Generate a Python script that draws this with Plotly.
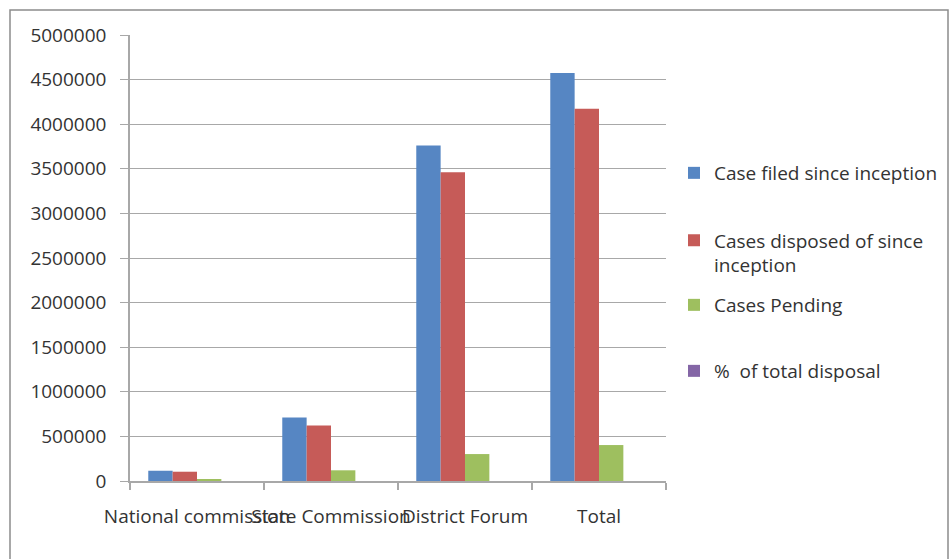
import plotly.graph_objects as go

categories = ["National commission", "State Commission", "District Forum", "Total"]
case_filed = [115000, 713000, 3760000, 4575000]
cases_disposed = [104000, 623000, 3460000, 4172000]
cases_pending = [12000, 120000, 302000, 403000]
pct_total_disposal = [90.4, 87.4, 92.0, 91.2]

series_names = [
    "Case filed since inception",
    "Cases disposed of since<br>inception",
    "Cases Pending",
    "%  of total disposal",
]
series_values = [case_filed, cases_disposed, cases_pending, pct_total_disposal]
# alpha just below 1 on the last colour: sub-pixel bars are rounded instead of expanded to 1px
series_colors = ["#5686C3", "#C65B58", "#9EBF5F", "rgba(132,102,166,0.999)"]
legend_ids = ["legend", "legend2", "legend3", "legend4"]

FONT = "Open Sans"
FS = 19
TXT = "#333333"
GRID = "#A8A8A8"

fig = go.Figure()
for name, vals, col, lg in zip(series_names, series_values, series_colors, legend_ids):
    fig.add_trace(go.Bar(x=categories, y=vals, name=name,
                         marker=dict(color=col, line=dict(width=0)), legend=lg))

# plot area: x 130..666, y 35..481 in a 950x559 page
W, H = 950, 559
L, R, T, B = 130, 666, 35, 481
pw, ph = R - L, B - T

def px(x):
    return (x - L) / pw

def py(y):
    return (B - y) / ph

def cx(x):
    return x / W

def cy(y):
    return 1 - y / H

legend_font = dict(family=FONT, size=FS, color=TXT)
common = dict(bgcolor="rgba(0,0,0,0)", borderwidth=0, font=legend_font, xanchor="left",
              xref="container", yref="container", yanchor="middle",
              itemclick=False, itemdoubleclick=False)

fig.update_layout(
    width=W, height=H,
    margin=dict(l=L, r=W - R, t=T, b=H - B, pad=0, autoexpand=False),
    paper_bgcolor="white", plot_bgcolor="white",
    barmode="group", bargap=1.5 / 5.5, bargroupgap=0,
    font=dict(family=FONT, size=FS, color=TXT),
    showlegend=True,
    legend=dict(x=cx(674), y=cy(173), **common),
    legend2=dict(x=cx(674), y=cy(253), valign="top", **common),
    legend3=dict(x=cx(674), y=cy(305), **common),
    legend4=dict(x=cx(674), y=cy(371), **common),
    xaxis=dict(
        showline=True, linecolor=GRID, linewidth=1.5,
        ticks="outside", tickson="boundaries", ticklen=7, tickcolor=GRID, tickwidth=1.5,
        tickangle=0, ticklabelstandoff=17, showgrid=False, automargin=False,
        tickfont=dict(family=FONT, size=FS, color=TXT),
    ),
    yaxis=dict(
        range=[0, 5000000], dtick=500000, tick0=0, tickformat="d",
        showgrid=True, gridcolor=GRID, gridwidth=1.2, zeroline=False,
        showline=True, linecolor=GRID, linewidth=1.5,
        ticks="outside", ticklen=8, tickcolor=GRID, tickwidth=1.2,
        ticklabelstandoff=10, automargin=False,
        tickfont=dict(family=FONT, size=FS, color=TXT),
    ),
    shapes=[dict(
        type="rect", xref="paper", yref="paper",
        x0=px(10), x1=px(948), y0=py(10), y1=py(575),
        line=dict(color="#8C8C8C", width=1.5), fillcolor="rgba(0,0,0,0)", layer="below",
    )],
)

fig.write_html("out.html")
